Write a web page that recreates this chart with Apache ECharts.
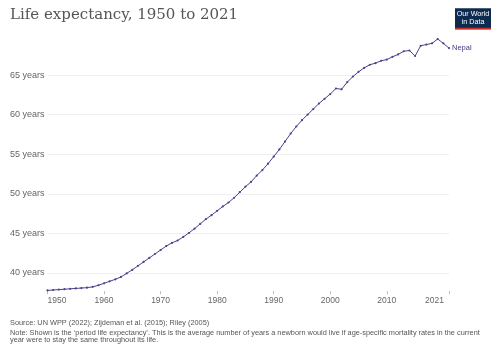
<!DOCTYPE html>
<html>
<head>
<meta charset="utf-8">
<style>html,body{margin:0;padding:0;background:#fff}#c{width:500px;height:353px}</style>
<script src="https://cdn.jsdelivr.net/npm/echarts@6/dist/echarts.min.js"></script>
</head>
<body>
<div id="c"></div>
<script>
var years = [];
for (var y = 1950; y <= 2021; y++) years.push(y);
var nepal = [
  37.8, 37.85, 37.9, 37.95, 38.0, 38.05, 38.1, 38.15, 38.25, 38.45,
  38.7, 38.95, 39.2, 39.5, 39.95, 40.4, 40.9, 41.4, 41.9, 42.4,
  42.9, 43.4, 43.8, 44.1, 44.55, 45.05, 45.6, 46.2, 46.8, 47.3,
  47.85, 48.4, 48.9, 49.5, 50.2, 50.9, 51.5, 52.3, 53.0, 53.8,
  54.7, 55.6, 56.6, 57.6, 58.5, 59.3, 60.0, 60.7, 61.4, 62.0,
  62.6, 63.3, 63.2, 64.1, 64.8, 65.4, 65.9, 66.3, 66.5, 66.8,
  66.95, 67.3, 67.6, 68.0, 68.1, 67.4, 68.7, 68.85, 69.0, 69.55,
  69.0, 68.4
];
var xTicks = [1950, 1960, 1970, 1980, 1990, 2000, 2010, 2021];
var yTicks = [40, 45, 50, 55, 60, 65];
var seriesName = 'Nepal';
var titleText = 'Life expectancy, 1950 to 2021';
var sourceText = 'Source: UN WPP (2022); Zijdeman et al. (2015); Riley (2005)';
var noteLine1 = 'Note: Shown is the \u2018period life expectancy\u2019. This is the average number of years a newborn would live if age-specific mortality rates in the current';
var noteLine2 = 'year were to stay the same throughout its life.';

var pts = years.map(function (yr, i) { return [yr, nepal[i]]; });
var lineColor = '#4f3f8c';
var sans = '"Liberation Sans", Arial, sans-serif';

var chart = echarts.init(document.getElementById('c'), null, {renderer: 'canvas'});
chart.setOption({
  animation: false,
  grid: {left: 47.5, right: 51, top: 38.6, bottom: 61.8, containLabel: false},
  xAxis: {
    type: 'value', min: 1950, max: 2021,
    axisLine: {show: false},
    splitLine: {show: false},
    axisTick: {show: true, customValues: xTicks, length: 3, lineStyle: {color: '#bbb'}},
    axisLabel: {
      customValues: xTicks, margin: 5, fontSize: 8.5, color: '#666',
      fontFamily: sans,
      alignMinLabel: 'left', alignMaxLabel: 'right',
      formatter: function (v) { return v === 2021 ? '{r|2021}' : String(v); },
      rich: {r: {padding: [0, 5, 0, 0], fontSize: 8.5, color: '#666', fontFamily: sans}}
    }
  },
  yAxis: {
    type: 'value', min: 37.7, max: 69.6,
    axisLine: {show: false},
    axisTick: {show: false, customValues: yTicks},
    splitLine: {show: true, lineStyle: {color: '#efefef', width: 1}},
    axisLabel: {
      customValues: yTicks, align: 'left', margin: 37.5, fontSize: 9, color: '#666',
      fontFamily: sans,
      formatter: function (v) { return v + ' years'; }
    }
  },
  series: [{
    type: 'line', name: seriesName, data: pts,
    symbol: 'circle', symbolSize: 2.2, showSymbol: true,
    lineStyle: {color: lineColor, width: 1},
    itemStyle: {color: lineColor},
    endLabel: {show: true, formatter: seriesName, distance: 3, fontSize: 7.5, color: '#4b3582',
      fontFamily: sans}
  }],
  graphic: [
    {type: 'text', left: 10, top: 8, style: {text: titleText, font: '15px "DejaVu Serif", serif', fill: '#555'}},
    {type: 'rect', shape: {x: 455, y: 8.3, width: 36, height: 21}, style: {fill: '#0d2a4f'}},
    {type: 'rect', shape: {x: 455, y: 27.8, width: 36, height: 1.6}, style: {fill: '#c8302b'}},
    {type: 'text', x: 473, y: 14.5, style: {text: 'Our World', font: '7.2px ' + sans, fill: '#fff', align: 'center', verticalAlign: 'middle'}},
    {type: 'text', x: 473, y: 22.3, style: {text: 'in Data', font: '7.2px ' + sans, fill: '#fff', align: 'center', verticalAlign: 'middle'}},
    {type: 'text', x: 10, y: 322.7, style: {text: sourceText, font: '7.35px ' + sans, fill: '#555', verticalAlign: 'middle'}},
    {type: 'text', x: 10, y: 332.7, style: {text: noteLine1, font: '7.35px ' + sans, fill: '#555', verticalAlign: 'middle'}},
    {type: 'text', x: 10, y: 339.8, style: {text: noteLine2, font: '7.35px ' + sans, fill: '#555', verticalAlign: 'middle'}}
  ]
});
</script>
</body>
</html>
